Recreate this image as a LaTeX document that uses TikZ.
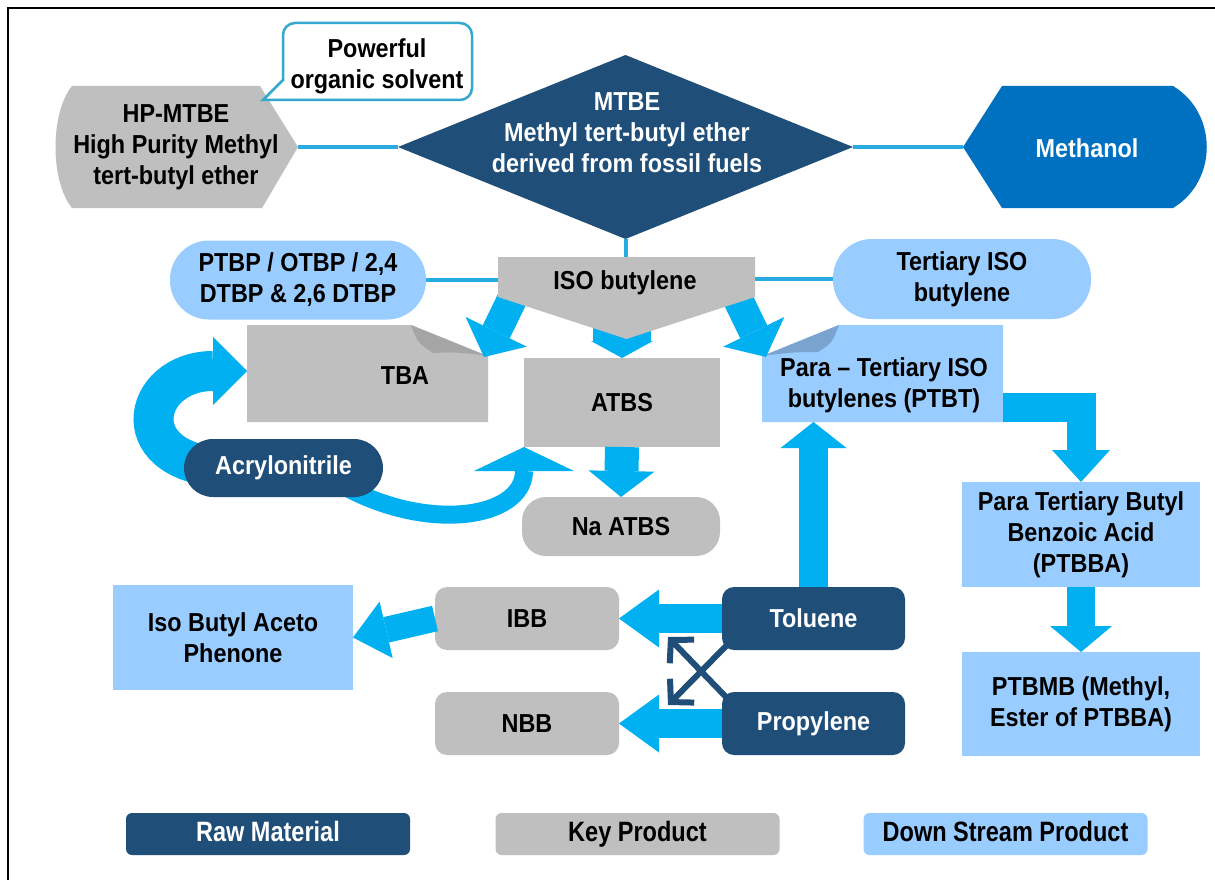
\documentclass[tikz,border=0pt]{standalone}
\usepackage{fontspec}
\setmainfont{Liberation Sans}[FakeStretch=0.9]
\newfontfamily\legendfamily{Liberation Sans}[FakeStretch=0.84]
\usetikzlibrary{arrows.meta,shapes.geometric,calc}
\definecolor{rawnavy}{HTML}{1F4E79}
\definecolor{keygray}{HTML}{BFBFBF}
\definecolor{downblue}{HTML}{99CCFF}
\definecolor{methblue}{HTML}{0070C0}
\definecolor{flowcyan}{HTML}{00B0F0}
\definecolor{linkcyan}{HTML}{29ABE2}
\definecolor{calloutline}{HTML}{35A8CF}
\definecolor{foldgray}{HTML}{A5A5A5}
\definecolor{foldblue}{HTML}{7BA3CF}
\begin{document}
\begin{tikzpicture}[x=1pt,y=-1pt,
  txt/.style={font=\fontsize{26}{31}\selectfont\bfseries,align=center,inner sep=0pt,outer sep=0pt},
  cell/.style={inner sep=0pt,outer sep=0pt},
  keyprod/.style={cell,txt,fill=keygray},
  downprod/.style={cell,txt,fill=downblue},
  rawmat/.style={cell,txt,fill=rawnavy,text=white},
  link/.style={draw=linkcyan,line width=4pt},
  flow/.style={draw=flowcyan,line width=#1},
  legendbox/.style={cell,font=\legendfamily\fontsize{28}{31}\selectfont\bfseries,
    text height=20pt,text depth=5pt,
    rounded corners=6pt,minimum width=284pt,minimum height=42pt}
]
\useasboundingbox (0,0) rectangle (1215,880);
\fill[white] (0,0) rectangle (1215,880);
\draw[line width=2.5pt] (8,880) -- (8,8) -- (1215,8);

% ---------- top row ----------
\node[cell,minimum width=243pt,minimum height=122pt] (hpmtbe) at (176.5,147) {};
\fill[keygray] (72,86) -- (260,86) -- (hpmtbe.east) -- (262,208) -- (72,208)
  .. controls (50,181) and (50,113) .. (72,86) -- cycle;
\node[txt] (hptext) at (176,147) {HP-MTBE\\High Purity Methyl\\tert-butyl ether};

\draw[calloutline,line width=2.5pt,fill=white] (283,80) [rounded corners=12pt]
  -- (283,23) -- (472,23) -- (472,100) -- (296,100) [sharp corners] -- (263,100) -- cycle;
\node[txt] (callout) at (377,66) {Powerful\\organic solvent};

\node[diamond,fill=rawnavy,minimum width=455pt,minimum height=184pt,inner sep=0pt,outer sep=0pt]
  (mtbe) at (625.5,147) {};
\node[txt,text=white] (mtbetext) at (627,133) {MTBE\\Methyl tert-butyl ether\\derived from fossil fuels};

\node[cell,minimum width=244pt,minimum height=122pt] (methanol) at (1085,147) {};
\fill[methblue] (methanol.west) -- (1002,86) -- (1173,86)
  .. controls (1218,113) and (1218,181) .. (1173,208) -- (1002,208) -- cycle;
\node[txt,text=white] (methtext) at (1087,148) {Methanol};

% ---------- second row ----------
\node[cell,minimum width=257pt,minimum height=82pt] (isob) at (626.5,298) {};
\node[downprod,rounded corners=39pt,minimum width=256pt,minimum height=79pt] (ptbp) at (298,280)
  {PTBP / OTBP / 2,4\\DTBP \& 2,6 DTBP};
\node[downprod,rounded corners=39pt,minimum width=258pt,minimum height=80pt] (tert) at (962,279)
  {Tertiary ISO\\butylene};

\draw[link] (hpmtbe.east) -- (mtbe.west);
\draw[link] (mtbe.east) -- (methanol.west);
\draw[link] (mtbe.south) -- (mtbe.south |- isob.north);
\draw[link] (ptbp.east) -- (ptbp.east -| isob.west);
\draw[link] (tert.west) -- (tert.west -| isob.east);

% ---------- TBA / ATBS / PTBT ----------
\node[cell,minimum width=241pt,minimum height=97pt] (tba) at (367.5,373.5) {};
\fill[keygray] (tba.south west) -- (tba.north west) -- (411,325) -- (488,356) -- (tba.south east) -- cycle;
\fill[foldgray] (411,325) .. controls (418,343) .. (433,353) .. controls (455,352) .. (486,355.5) -- cycle;
\node[txt] (tbatext) at (405,376) {TBA};

\node[keyprod,minimum width=196pt,minimum height=89pt] (atbs) at (622,402.5) {ATBS};

\node[cell,minimum width=241pt,minimum height=97pt] (ptbt) at (882.5,373.5) {};
\fill[downblue] (ptbt.south west) -- (762,356) -- (839,325) -- (ptbt.north east) -- (ptbt.south east) -- cycle;
\fill[foldblue] (839,325) .. controls (832,343) .. (818,352) .. controls (796,352) .. (764,355.5) -- cycle;
\node[txt] (ptbttext) at (884,385) {Para – Tertiary ISO\\butylenes (PTBT)};

% branches leaving ISO butylene
\coordinate (isobL) at (518,287);
\coordinate (isobM) at (622,300);
\coordinate (isobR) at (732,287);
\coordinate (tbaIn) at (484,357);
\coordinate (ptbtIn) at (766,357);
\draw[flow=30pt,-{Triangle[length=28pt,width=68pt,line width=0pt]}] (isobL) -- (tbaIn);
\draw[flow=58pt,-{Triangle[length=17pt,width=62pt,line width=0pt]}] (isobM) -- (atbs.north);
\draw[flow=30pt,-{Triangle[length=28pt,width=68pt,line width=0pt]}] (isobR) -- (ptbtIn);

\fill[keygray] (isob.north west) -- (isob.north east) -- (755,297) -- (isob.south) -- (498,297) -- cycle;
\node[txt] (isobtext) at (625,283) {ISO butylene};

% ---------- Acrylonitrile loop ----------
\coordinate (acrylL) at (235,468);
\coordinate (acrylR) at (330,478);
\coordinate (tbaW) at (247,371);
\draw[flow=40pt,-{Triangle[length=34pt,width=68pt,line width=0pt]}] (acrylL)
  .. controls (120,468) and (140,371) .. (tbaW);
\draw[flow=18pt,-{Triangle[length=24pt,width=100pt,line width=0pt]}] (acrylR)
  .. controls (420,535) and (524,520) .. (atbs.south west);
\node[rawmat,rounded corners=29pt,minimum width=199pt,minimum height=58pt] (acryl) at (283.5,468) {Acrylonitrile};

\node[keyprod,rounded corners=24pt,minimum width=198pt,minimum height=59pt] (naatbs) at (621,526.5) {Na ATBS};
\draw[flow=34pt,-{Triangle[length=26pt,width=66pt,line width=0pt]}] (atbs.south) -- (naatbs.north);

% ---------- right column ----------
\node[downprod,minimum width=238pt,minimum height=105pt] (ptbba) at (1081,534.5)
  {Para Tertiary Butyl\\Benzoic Acid\\(PTBBA)};
\node[downprod,minimum width=238pt,minimum height=104pt] (ptbmb) at (1081,704)
  {PTBMB (Methyl,\\Ester of PTBBA)};
\coordinate (ptbtOut) at (1003,407.5);
\draw[flow=29pt,-{Triangle[length=32pt,width=58pt,line width=0pt]}] (ptbtOut) -| (ptbba.north);
\draw[flow=28pt,-{Triangle[length=26pt,width=62pt,line width=0pt]}] (ptbba.south) -- (ptbmb.north);

% ---------- lower block ----------
\node[rawmat,rounded corners=12pt,minimum width=183pt,minimum height=63pt] (toluene) at (813.5,618.5) {Toluene};
\node[rawmat,rounded corners=12pt,minimum width=183pt,minimum height=63pt] (propylene) at (813.5,723.5) {Propylene};
\node[keyprod,rounded corners=12pt,minimum width=184pt,minimum height=63pt] (ibb) at (527,618.5) {IBB};
\node[keyprod,rounded corners=12pt,minimum width=184pt,minimum height=63pt] (nbb) at (527,723.5) {NBB};
\node[downprod,minimum width=240pt,minimum height=105pt] (isobap) at (233,637.5) {Iso Butyl Aceto\\Phenone};

\draw[flow=29pt,-{Triangle[length=26pt,width=66pt,line width=0pt]}] (toluene.north) -- (toluene.north |- ptbt.south);
\draw[flow=29pt,-{Triangle[length=40pt,width=58pt,line width=0pt]}] (toluene.west) -- (ibb.east);
\draw[flow=29pt,-{Triangle[length=40pt,width=58pt,line width=0pt]}] (propylene.west) -- (nbb.east);
\draw[flow=26pt,-{Triangle[length=34pt,width=58pt,line width=0pt]}] (ibb.west) -- (isobap.east);

\coordinate (tolOut) at (726,646);
\coordinate (propOut) at (726,697);
\coordinate (nbbTip) at (668,705);
\coordinate (ibbTip) at (668,637);
\draw[rawnavy,line width=6pt,-{Straight Barb[length=16pt,width=34pt]}] (tolOut) -- (nbbTip);
\draw[rawnavy,line width=6pt,-{Straight Barb[length=16pt,width=34pt]}] (propOut) -- (ibbTip);

% ---------- legend ----------
\node[legendbox,fill=rawnavy,text=white] (legraw) at (268,834) {Raw Material};
\node[legendbox,fill=keygray] (legkey) at (637.5,834) {Key Product};
\node[legendbox,fill=downblue] (legdown) at (1005.5,834) {Down Stream Product};
\end{tikzpicture}
\end{document}
